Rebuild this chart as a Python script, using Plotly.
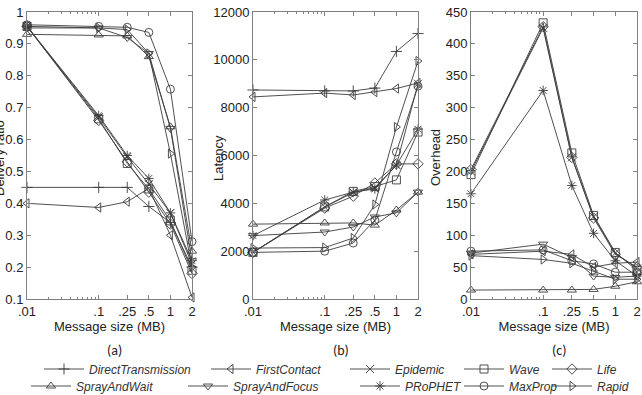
import plotly.graph_objects as go
import math

# ---------------- data ----------------
sizes = [0.01, 0.1, 0.25, 0.5, 1, 2]
size_labels = ['.01', '.1', '.25', '.5', '1', '2']

protocols = ['DirectTransmission', 'FirstContact', 'Epidemic', 'Wave', 'Life',
             'SprayAndWait', 'SprayAndFocus', 'PRoPHET', 'MaxProp', 'Rapid']
symbols = ['cross-thin-open', 'triangle-left-open', 'x-thin-open', 'square-open',
           'diamond-open', 'triangle-up-open', 'triangle-down-open',
           'asterisk-open', 'circle-open', 'triangle-right-open']

delivery_ratio = {
    'DirectTransmission': [0.45, 0.45, 0.45, 0.39, 0.34, 0.20],
    'FirstContact':       [0.40, 0.387, 0.405, 0.447, 0.30, 0.105],
    'Epidemic':           [0.955, 0.67, 0.545, 0.46, 0.37, 0.21],
    'Wave':               [0.955, 0.665, 0.525, 0.445, 0.345, 0.19],
    'Life':               [0.955, 0.66, 0.53, 0.435, 0.335, 0.18],
    'SprayAndWait':       [0.93, 0.928, 0.925, 0.86, 0.64, 0.25],
    'SprayAndFocus':      [0.95, 0.95, 0.92, 0.87, 0.635, 0.22],
    'PRoPHET':            [0.955, 0.675, 0.55, 0.478, 0.37, 0.22],
    'MaxProp':            [0.96, 0.955, 0.952, 0.936, 0.758, 0.28],
    'Rapid':              [0.955, 0.95, 0.945, 0.87, 0.556, 0.20],
}

latency = {
    'DirectTransmission': [8740, 8700, 8700, 8820, 10350, 11100],
    'FirstContact':       [8450, 8610, 8530, 8650, 8800, 9030],
    'Epidemic':           [1950, 3850, 4450, 4650, 5600, 9000],
    'Wave':               [1950, 3850, 4500, 4700, 4980, 6980],
    'Life':               [1950, 3800, 4300, 4850, 5650, 5650],
    'SprayAndWait':       [3130, 3180, 3180, 3090, 3720, 4470],
    'SprayAndFocus':      [2650, 2800, 3010, 3430, 3600, 4470],
    'PRoPHET':            [2650, 4140, 4470, 4600, 5600, 7100],
    'MaxProp':            [1950, 2000, 2340, 3300, 6150, 8900],
    'Rapid':              [2130, 2150, 2550, 3950, 7190, 9950],
}

overhead = {
    'DirectTransmission': None,
    'FirstContact':       [70, 75, 70, 50, 56, 58],
    'Epidemic':           [200, 425, 222, 129, 72, 48],
    'Wave':               [195, 433, 229, 131, 73, 45],
    'Life':               [203, 427, 222, 127, 70, 50],
    'SprayAndWait':       [14, 14, 14, 15, 20, 27],
    'SprayAndFocus':      [72, 86, 65, 36, 34, 36],
    'PRoPHET':            [165, 327, 178, 103, 60, 36],
    'MaxProp':            [75, 77, 60, 55, 42, 42],
    'Rapid':              [68, 62, 56, 44, 31, 31],
}

y_ticks_a = [0.1, 0.2, 0.3, 0.4, 0.5, 0.6, 0.7, 0.8, 0.9, 1]
y_ticks_a_text = ['0.1', '0.2', '0.3', '0.4', '0.5', '0.6', '0.7', '0.8', '0.9', '1']
y_ticks_b = [0, 2000, 4000, 6000, 8000, 10000, 12000]
y_ticks_c = [0, 50, 100, 150, 200, 250, 300, 350, 400, 450]

# ---------------- layout geometry (pixels) ----------------
W, H = 642, 395
def px_x(p): return p / W
def px_y(p): return 1 - p / H

panels = [(27, 192), (253, 418), (471, 637)]
top_px, bot_px = 12, 299

LINE = '#3c3c3c'
AXIS = '#808080'
TXT = '#222222'
FONT = 'Arial'

# legend placement: (text start px, row y px)
legend_pos = {
    'DirectTransmission': (90, 369), 'FirstContact': (257, 369), 'Epidemic': (396, 369),
    'Wave': (510, 369), 'Life': (598, 369),
    'SprayAndWait': (77, 386), 'SprayAndFocus': (234, 386), 'PRoPHET': (406, 386),
    'MaxProp': (510, 386), 'Rapid': (598, 386),
}

fig = go.Figure()
metrics = [delivery_ratio, latency, overhead]
for pi, metric in enumerate(metrics):
    xa = 'x' if pi == 0 else f'x{pi+1}'
    ya = 'y' if pi == 0 else f'y{pi+1}'
    for i, name in enumerate(protocols):
        vals = metric[name]
        if vals is None:
            continue
        lg = 'legend' if i == 0 else f'legend{i+1}'
        fig.add_trace(go.Scatter(
            x=sizes, y=vals, mode='lines+markers', name=name,
            xaxis=xa, yaxis=ya,
            line=dict(color=LINE, width=0.9),
            marker=dict(symbol=symbols[i], size=8, color=LINE,
                        line=dict(color=LINE, width=0.9)),
            cliponaxis=False,
            showlegend=(pi == 0), legend=lg,
        ))

axis_common = dict(showline=True, linecolor=AXIS, linewidth=1, mirror='ticks',
                   ticks='inside', ticklen=4, tickcolor=AXIS, showgrid=False,
                   zeroline=False, tickfont=dict(family=FONT, size=13, color=TXT))

layout = dict(width=W, height=H, margin=dict(l=0, r=0, t=0, b=0, autoexpand=False),
              paper_bgcolor='white', plot_bgcolor='white',
              font=dict(family=FONT, color=TXT))

ytitles = ['Delivery ratio', 'Latency', 'Overhead']
ytitle_x = [-1, 218, 435]
yranges = [[0.1, 1], [0, 12000], [0, 450]]
yticks = [(y_ticks_a, y_ticks_a_text),
          (y_ticks_b, [str(v) for v in y_ticks_b]),
          (y_ticks_c, [str(v) for v in y_ticks_c])]

for pi, (l, r) in enumerate(panels):
    xk = 'xaxis' if pi == 0 else f'xaxis{pi+1}'
    yk = 'yaxis' if pi == 0 else f'yaxis{pi+1}'
    ya = 'y' if pi == 0 else f'y{pi+1}'
    xa = 'x' if pi == 0 else f'x{pi+1}'
    layout[xk] = dict(axis_common, type='log', domain=[px_x(l), px_x(r)],
                      range=[math.log10(0.01), math.log10(2)],
                      tickvals=sizes, ticktext=size_labels, anchor=ya,
                      minor=dict(tickvals=[0.02, 0.03, 0.04, 0.05, 0.06, 0.07, 0.08, 0.09],
                                 ticks='inside', ticklen=2, tickcolor=AXIS),
                      title=dict(text='Message size (MB)', standoff=4,
                                 font=dict(family=FONT, size=13, color=TXT)))
    layout[yk] = dict(axis_common, domain=[px_y(bot_px), px_y(top_px)],
                      range=yranges[pi], tickvals=yticks[pi][0], ticktext=yticks[pi][1],
                      anchor=xa)

# legends
for i, name in enumerate(protocols):
    lg = 'legend' if i == 0 else f'legend{i+1}'
    tx, ty = legend_pos[name]
    layout[lg] = dict(x=px_x(tx - 51), y=px_y(ty), xanchor='left', yanchor='middle',
                      bgcolor='rgba(0,0,0,0)', borderwidth=0, itemwidth=40,
                      font=dict(family=FONT, size=12, color='#333333', style='italic'))

fig.update_layout(**layout)

for t, xp in zip(ytitles, ytitle_x):
    fig.add_annotation(text=t, x=px_x(xp), y=px_y(158), xref='paper', yref='paper',
                       textangle=-90, showarrow=False, xanchor='center', yanchor='middle',
                       font=dict(family=FONT, size=13, color=TXT))

for lab, (l, r) in zip(['(a)', '(b)', '(c)'], panels):
    fig.add_annotation(text=lab, x=px_x((l + r) / 2 + 5), y=px_y(350), xref='paper', yref='paper',
                       showarrow=False, xanchor='center', yanchor='middle',
                       font=dict(family='Carlito, Liberation Sans, sans-serif', size=14, color=TXT))

fig.write_html('out.html')
